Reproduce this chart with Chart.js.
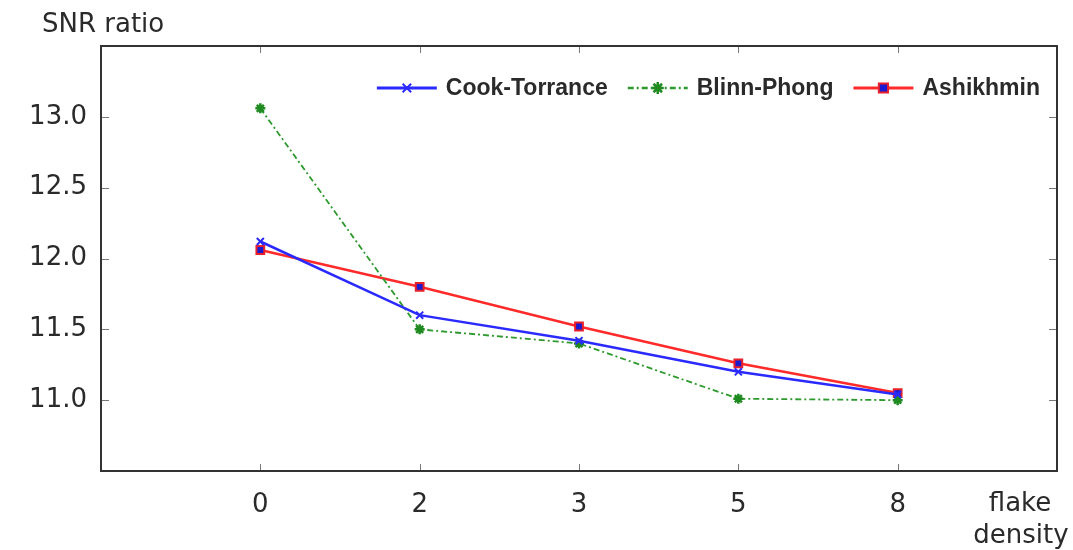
<!DOCTYPE html>
<html>
<head>
<meta charset="utf-8">
<script src="https://cdn.jsdelivr.net/npm/chart.js@4/dist/chart.umd.min.js"></script>
<style>
  html, body { margin: 0; padding: 0; background: #ffffff; }
  #wrap { width: 1073px; height: 550px; position: relative; }
</style>
</head>
<body>
<div id="wrap"><canvas id="c" width="1073" height="550"></canvas></div>
<script>
// ---- data ----
const categories = ['', '0', '2', '3', '5', '8', ''];
const cookTorrance = [null, 12.12, 11.60, 11.42, 11.20, 11.04, null];
const blinnPhong   = [null, 13.06, 11.50, 11.40, 11.01, 11.00, null];
const ashikhmin    = [null, 12.06, 11.80, 11.52, 11.26, 11.05, null];
const seriesNames  = ['Cook-Torrance', 'Blinn-Phong', 'Ashikhmin'];
const yTickValues  = [11.0, 11.5, 12.0, 12.5, 13.0];
const yTitle = 'SNR ratio';
const xTitle = ['flake', 'density'];

const TICK_FONT = { family: 'DejaVu Sans', size: 26 };
const TEXT_COLOR = '#2a2a2a';

const framePlugin = {
  id: 'frame',
  afterDatasetsDraw(chart) {
    const { ctx, chartArea: a, scales } = chart;
    ctx.save();
    // inner tick marks
    ctx.strokeStyle = '#777777';
    ctx.lineWidth = 1;
    ctx.beginPath();
    yTickValues.forEach(v => {
      const y = Math.round(scales.y.getPixelForValue(v)) + 0.5;
      ctx.moveTo(a.left, y); ctx.lineTo(a.left + 8, y);
      ctx.moveTo(a.right, y); ctx.lineTo(a.right - 8, y);
    });
    categories.forEach((c, i) => {
      if (!c) return;
      const x = Math.round(scales.x.getPixelForValue(i)) + 0.5;
      ctx.moveTo(x, a.bottom); ctx.lineTo(x, a.bottom - 7);
      ctx.moveTo(x, a.top); ctx.lineTo(x, a.top + 7);
    });
    ctx.stroke();
    // box
    ctx.strokeStyle = '#333333';
    ctx.lineWidth = 2;
    ctx.strokeRect(a.left, a.top, a.right - a.left, a.bottom - a.top);
    ctx.restore();
  },
  afterDraw(chart) {
    const { ctx, chartArea: a } = chart;
    ctx.save();
    // axis titles
    ctx.fillStyle = TEXT_COLOR;
    ctx.font = '26px "DejaVu Sans"';
    ctx.textBaseline = 'alphabetic';
    ctx.textAlign = 'left';
    ctx.fillText(yTitle, 42, 32);
    ctx.textAlign = 'center';
    ctx.fillText(xTitle[0], 1020, 511);
    ctx.fillText(xTitle[1], 1021, 543);

    // legend
    ctx.font = 'bold 23px "Liberation Sans", Arial, sans-serif';
    const lineLen = 60, gapText = 9, gapItem = 20;
    const widths = chart.data.datasets.map(d => ctx.measureText(d.label).width);
    let total = 0;
    widths.forEach((w, i) => { total += lineLen + gapText + w + (i < widths.length - 1 ? gapItem : 0); });
    let x = a.right - 17 - total;
    const y = 88;
    chart.data.datasets.forEach((d, i) => {
      ctx.save();
      ctx.strokeStyle = d.borderColor;
      ctx.lineWidth = d.borderWidth + 0.5;
      ctx.setLineDash(d.borderDash || []);
      ctx.beginPath();
      ctx.moveTo(x, y); ctx.lineTo(x + lineLen, y);
      ctx.stroke();
      ctx.setLineDash([]);
      const opts = {
        pointStyle: d.pointStyle, radius: d.pointRadius + 1, rotation: 0,
        borderWidth: d.pointBorderWidth
      };
      ctx.fillStyle = d.pointBackgroundColor;
      ctx.strokeStyle = d.pointBorderColor;
      ctx.lineWidth = d.pointBorderWidth;
      Chart.helpers.drawPoint(ctx, opts, x + lineLen / 2, y);
      ctx.restore();
      ctx.fillStyle = TEXT_COLOR;
      ctx.textAlign = 'left';
      ctx.textBaseline = 'middle';
      ctx.fillText(d.label, x + lineLen + gapText, y + 1);
      x += lineLen + gapText + widths[i] + gapItem;
    });
    ctx.restore();
  }
};

new Chart(document.getElementById('c'), {
  type: 'line',
  data: {
    labels: categories,
    datasets: [
      {
        label: seriesNames[0], data: cookTorrance,
        borderColor: '#2a2aff', borderWidth: 2.5,
        pointStyle: 'crossRot', pointRadius: 5, pointBorderWidth: 2,
        pointBorderColor: '#2a2aff', pointBackgroundColor: '#2a2aff'
      },
      {
        label: seriesNames[1], data: blinnPhong,
        borderColor: '#2e9a2e', borderWidth: 1.8, borderDash: [6, 3, 2, 3],
        pointStyle: 'star', pointRadius: 5, pointBorderWidth: 2.5,
        pointBorderColor: '#1f8a1f', pointBackgroundColor: '#1f8a1f'
      },
      {
        label: seriesNames[2], data: ashikhmin,
        borderColor: '#ff2a2a', borderWidth: 2.5,
        pointStyle: 'rect', pointRadius: 5.5, pointBorderWidth: 2,
        pointBorderColor: '#e8202a', pointBackgroundColor: '#1a1ad0'
      }
    ]
  },
  options: {
    responsive: false,
    animation: false,
    events: [],
    layout: { padding: { top: 46, right: 16, left: 0, bottom: 0 } },
    elements: { line: { tension: 0 } },
    plugins: { legend: { display: false }, tooltip: { enabled: false } },
    scales: {
      x: {
        type: 'category',
        offset: false,
        grid: { display: false },
        border: { display: false },
        ticks: { font: TICK_FONT, color: TEXT_COLOR, padding: 11, maxRotation: 0, autoSkip: false },
        afterFit(s) { s.height = 79; }
      },
      y: {
        min: 10.5, max: 13.5,
        grid: { display: false },
        border: { display: false },
        ticks: {
          stepSize: 0.5, font: TICK_FONT, color: TEXT_COLOR, padding: 6,
          callback: v => (yTickValues.some(t => Math.abs(t - v) < 1e-6) ? v.toFixed(1) : '')
        },
        afterFit(s) { s.width = 101; }
      }
    }
  },
  plugins: [framePlugin]
});
</script>
</body>
</html>
